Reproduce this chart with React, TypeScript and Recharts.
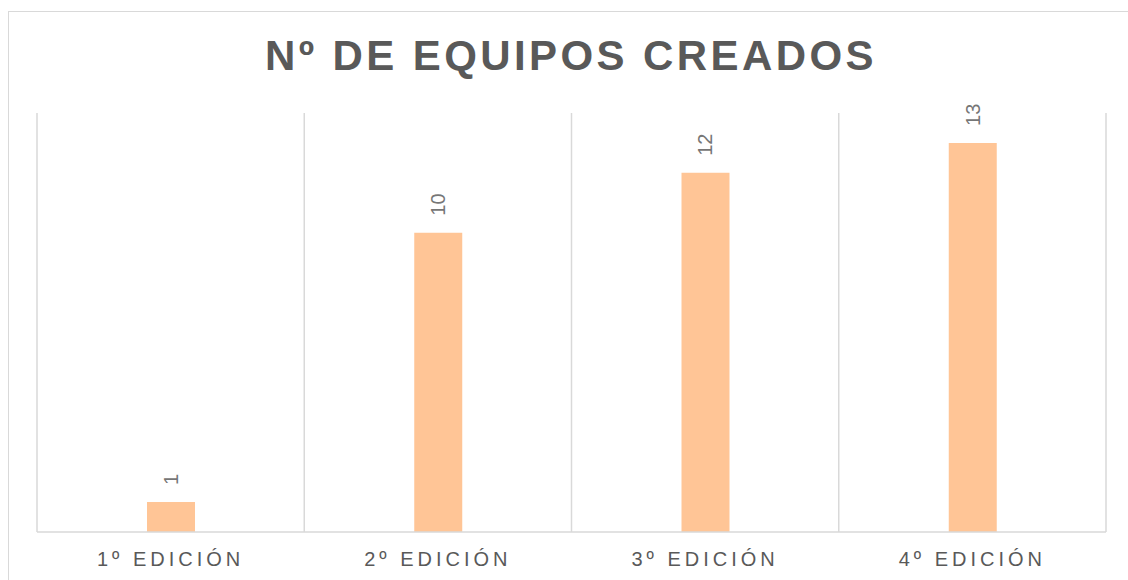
import { BarChart, Bar, XAxis, YAxis, CartesianGrid, LabelList } from 'recharts'

const ediciones = ['1º EDICIÓN', '2º EDICIÓN', '3º EDICIÓN', '4º EDICIÓN']
const equipos = [1, 10, 12, 13]

const data = ediciones.map((name, i) => ({ name, equipos: equipos[i] }))

const FONT = '"Liberation Sans", Arial, sans-serif'
const GRAY = '#595959'
const GRID = '#d9d9d9'

// etiqueta girada encima de cada barra
const RotatedLabel = (props: any) => {
  const { x, y, width, value } = props
  const cx = x + width / 2
  const cy = y - 17
  return (
    <text
      x={cx}
      y={cy}
      transform={`rotate(-90, ${cx}, ${cy})`}
      textAnchor="start"
      dominantBaseline="central"
      fontSize={20}
      fill="#767676"
      fontFamily={FONT}
    >
      {value}
    </text>
  )
}

export default function App() {
  return (
    <div
      style={{
        position: 'absolute',
        left: 0,
        top: 0,
        width: 1128,
        height: 580,
        overflow: 'hidden',
        background: '#fff',
        fontFamily: FONT,
      }}
    >
      <div
        style={{
          position: 'absolute',
          left: 8,
          top: 11,
          width: 1160,
          height: 620,
          border: `1px solid ${GRID}`,
        }}
      />
      <div
        style={{
          position: 'absolute',
          left: 0,
          top: 32,
          width: 1142,
          textAlign: 'center',
          fontSize: 42,
          fontWeight: 'bold',
          letterSpacing: 3.4,
          color: GRAY,
          lineHeight: '48px',
        }}
      >
        Nº DE EQUIPOS CREADOS
      </div>
      <div style={{ position: 'absolute', left: 0, top: 0 }}>
        <BarChart
          width={1128}
          height={580}
          data={data}
          margin={{ top: 113, right: 22, bottom: 0, left: 37 }}
        >
          <CartesianGrid
            horizontal={false}
            stroke={GRID}
            strokeWidth={1.5}
            verticalCoordinatesGenerator={({ offset }: any) =>
              [0, 1, 2, 3, 4].map((i) => offset.left + (offset.width * i) / 4)
            }
          />
          <XAxis
            dataKey="name"
            height={48}
            axisLine={{ stroke: GRID, strokeWidth: 1.5 }}
            tickLine={false}
            tick={{ fill: GRAY, fontSize: 20, fontFamily: FONT, letterSpacing: 4 }}
            dy={12}
          />
          <YAxis hide domain={[0, 14]} />
          <Bar dataKey="equipos" fill="#FFC596" barSize={48} isAnimationActive={false}>
            <LabelList dataKey="equipos" content={<RotatedLabel />} />
          </Bar>
        </BarChart>
      </div>
    </div>
  )
}
